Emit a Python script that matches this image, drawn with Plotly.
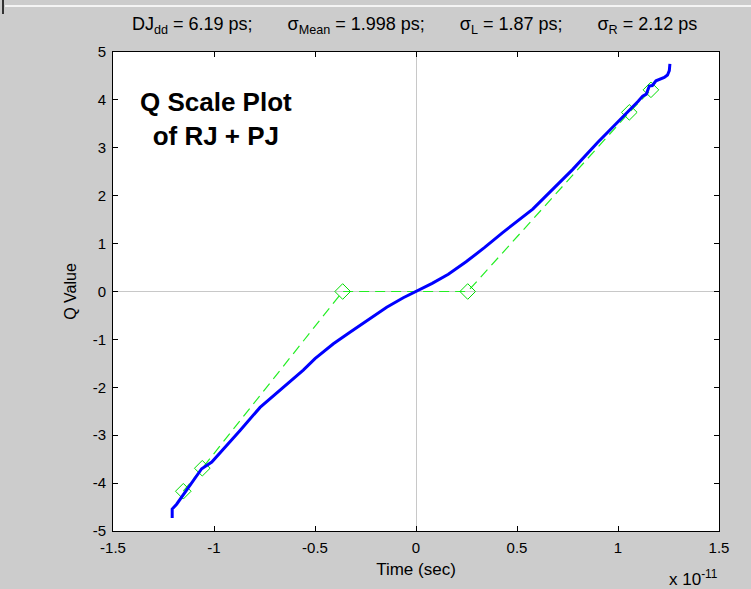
import plotly.graph_objects as go

# Measured Q-scale curve (time in units of 1e-11 s)
blue_x = [-1.207, -1.207, -1.185, -1.144, -1.100, -1.061, -1.011, -0.940, -0.871, -0.772,
          -0.657, -0.558, -0.500, -0.409, -0.327, -0.244, -0.145, -0.063, 0.0,
          0.080, 0.160, 0.248, 0.340, 0.429, 0.578, 0.660, 0.776, 0.899, 0.990,
          1.056, 1.100, 1.122, 1.140, 1.155, 1.170, 1.188, 1.210, 1.229, 1.245, 1.254, 1.257]
blue_y = [-4.73, -4.54, -4.44, -4.19, -3.92, -3.70, -3.56, -3.23, -2.90, -2.42,
          -2.00, -1.64, -1.40, -1.09, -0.85, -0.61, -0.33, -0.13, 0.0,
          0.17, 0.36, 0.62, 0.92, 1.23, 1.72, 2.07, 2.55, 3.11, 3.49,
          3.77, 3.97, 4.08, 4.12, 4.29, 4.30, 4.40, 4.44, 4.47, 4.52, 4.61, 4.75]

# Fitted (dual-Dirac) points
green_x = [-1.152, -1.058, -0.363, 0.256, 1.056, 1.163]
green_y = [-4.17, -3.69, 0.0, 0.0, 3.74, 4.21]

x_ticks = [-1.5, -1, -0.5, 0, 0.5, 1, 1.5]
x_tick_text = ["-1.5", "-1", "-0.5", "0", "0.5", "1", "1.5"]
y_ticks = [-5, -4, -3, -2, -1, 0, 1, 2, 3, 4, 5]
y_tick_text = [str(v) for v in y_ticks]

FONT = "Liberation Sans, Arial, sans-serif"

fig = go.Figure()
fig.add_trace(go.Scatter(x=green_x, y=green_y, mode="lines+markers",
                         line=dict(color="#22ee22", width=1.2, dash="10px,6px"),
                         marker=dict(symbol="diamond-open", size=12, color="#00dd00",
                                     line=dict(width=1, color="#00dd00")),
                         showlegend=False))
fig.add_trace(go.Scatter(x=blue_x, y=blue_y, mode="lines",
                         line=dict(color="#0000ff", width=3),
                         showlegend=False))

axis_common = dict(showline=True, linecolor="black", linewidth=1, mirror="ticks",
                   ticks="inside", ticklen=5, tickcolor="black", showgrid=False,
                   zeroline=True, zerolinecolor="#c8c8c8", zerolinewidth=1,
                   tickfont=dict(family=FONT, size=15, color="black"))

fig.update_xaxes(range=[-1.5, 1.5], tickvals=x_ticks, ticktext=x_tick_text,
                 ticklabelstandoff=3,
                 title=dict(text="Time (sec)", font=dict(family=FONT, size=17, color="black"),
                            standoff=8),
                 **axis_common)
fig.update_yaxes(range=[-5, 5], tickvals=y_ticks, ticktext=y_tick_text,
                 ticklabelstandoff=3,
                 title=dict(text="Q Value", font=dict(family=FONT, size=16, color="black"),
                            standoff=12),
                 **axis_common)

fig.add_annotation(text="Q Scale Plot<br>of RJ + PJ", xref="paper", yref="paper",
                   x=(216 - 113) / 606, y=1 - (119 - 52) / 479, showarrow=False,
                   font=dict(family=FONT, size=26, color="black", weight="bold"),
                   align="center", xanchor="center", yanchor="middle")
fig.add_annotation(text="x 10<sup>-11</sup>", xref="paper", yref="paper",
                   x=(693 - 113) / 606, y=-(578 - 531) / 479, showarrow=False,
                   font=dict(family=FONT, size=17, color="black"),
                   xanchor="center", yanchor="middle")
gap = "&nbsp;" * 7
fig.add_annotation(
    text=("DJ<sub>dd</sub> = 6.19 ps;" + gap + "σ<sub>Mean</sub> = 1.998 ps;" + gap +
          "σ<sub>L</sub> = 1.87 ps;" + gap + "σ<sub>R</sub> = 2.12 ps"),
    xref="paper", yref="paper", x=(414 - 113) / 606, y=1 + (52 - 25) / 479,
    showarrow=False, font=dict(family=FONT, size=18, color="black"),
    xanchor="center", yanchor="middle")

# window frame lines at the top
fig.add_shape(type="line", xref="paper", yref="paper",
              x0=-108 / 606, x1=(751 - 113) / 606, y0=1 + (52 - 6) / 479, y1=1 + (52 - 6) / 479,
              line=dict(color="#f4f4f4", width=2))
fig.add_shape(type="line", xref="paper", yref="paper",
              x0=-110 / 606, x1=-110 / 606, y0=1 + 52 / 479, y1=1 + (52 - 14) / 479,
              line=dict(color="#333333", width=2))

fig.update_layout(width=751, height=589,
                  margin=dict(l=113, r=32, t=52, b=58),
                  paper_bgcolor="#cccccc", plot_bgcolor="white",
                  font=dict(family=FONT, color="black"))

fig.write_html("out.html")
